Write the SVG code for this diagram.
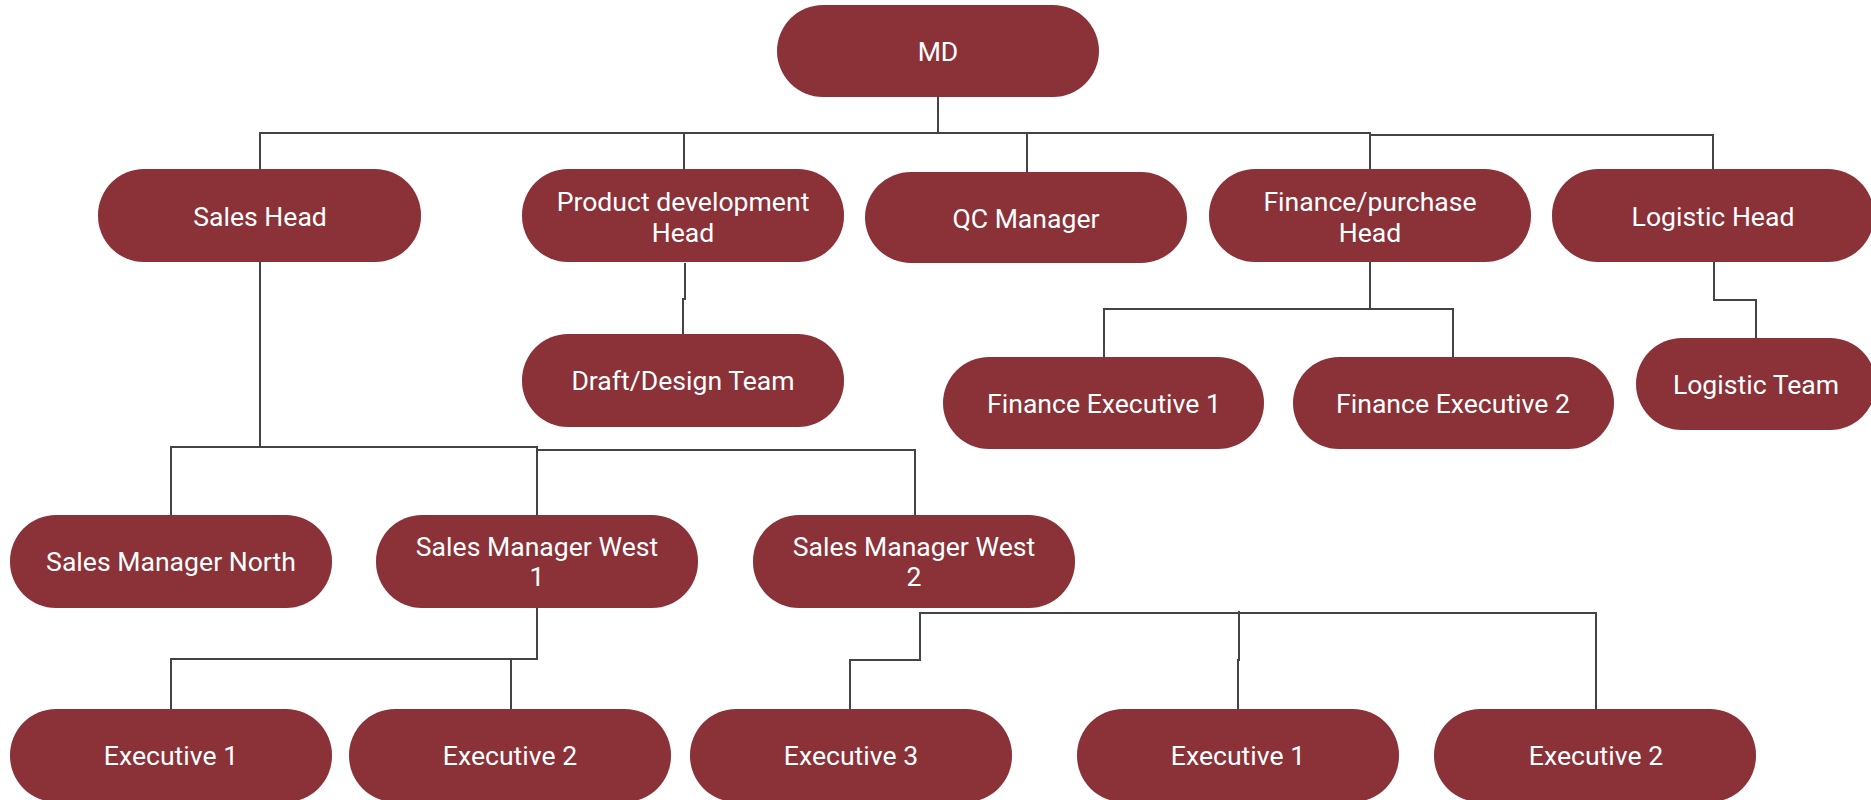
<svg xmlns="http://www.w3.org/2000/svg" width="1871" height="800" viewBox="0 0 1871 800">
<style>
.n rect{fill:#8b3138}
.n text{fill:#fff;font-family:Roboto,"Liberation Sans",sans-serif;font-size:26.6px;text-anchor:middle}
#connectors path{fill:none;stroke:#444;stroke-width:2}
</style>
<rect width="1871" height="800" fill="#fff"/>
<g id="connectors">
<path d="M938 97 V134"/>
<path d="M260 169 V133 H1370 V169"/>
<path d="M1370 135 H1713 V169"/>
<path d="M684 133 V169"/>
<path d="M1027 134 V172"/>
<path d="M685 263 V299 H683 V334"/>
<path d="M1370 262 V309 H1104 V357"/>
<path d="M1370 309 H1453 V357"/>
<path d="M1714 262 V300 H1756 V338"/>
<path d="M260 262 V447 H171 V515"/>
<path d="M260 447 H537 V515"/>
<path d="M537 450 H915 V515"/>
<path d="M537 608 V659 H171 V709"/>
<path d="M511 659 V709"/>
<path d="M920 612 V660 H850 V709"/>
<path d="M920 613 H1596 V709"/>
<path d="M1239 611 V660 H1238 V709"/>
</g>
<g id="md" class="n"><rect x="777" y="5" width="322" height="92" rx="46"/><text x="938" y="61">MD</text></g>
<g id="sales-head" class="n"><rect x="98" y="169" width="323" height="93" rx="46"/><text x="260" y="226">Sales Head</text></g>
<g id="pd-head" class="n"><rect x="522" y="169" width="322" height="93" rx="46"/><text x="683" y="211">Product development</text><text x="683" y="242">Head</text></g>
<g id="qc" class="n"><rect x="865" y="172" width="322" height="91" rx="46"/><text x="1026" y="228">QC Manager</text></g>
<g id="finance-head" class="n"><rect x="1209" y="169" width="322" height="93" rx="46"/><text x="1370" y="211">Finance/purchase</text><text x="1370" y="242">Head</text></g>
<g id="logistic-head" class="n"><rect x="1552" y="169" width="322" height="93" rx="46"/><text x="1713" y="226">Logistic Head</text></g>
<g id="draft" class="n"><rect x="522" y="334" width="322" height="93" rx="46"/><text x="683" y="390">Draft/Design Team</text></g>
<g id="fin-exec1" class="n"><rect x="943" y="357" width="321" height="92" rx="46"/><text x="1104" y="413">Finance Executive 1</text></g>
<g id="fin-exec2" class="n"><rect x="1293" y="357" width="321" height="92" rx="46"/><text x="1453" y="413">Finance Executive 2</text></g>
<g id="logistic-team" class="n"><rect x="1636" y="338" width="240" height="92" rx="46"/><text x="1756" y="394">Logistic Team</text></g>
<g id="sm-north" class="n"><rect x="10" y="515" width="322" height="93" rx="46"/><text x="171" y="571">Sales Manager North</text></g>
<g id="smw1" class="n"><rect x="376" y="515" width="322" height="93" rx="46"/><text x="537" y="556">Sales Manager West</text><text x="537" y="586">1</text></g>
<g id="smw2" class="n"><rect x="753" y="515" width="322" height="93" rx="46"/><text x="914" y="556">Sales Manager West</text><text x="914" y="586">2</text></g>
<g id="exec1a" class="n"><rect x="10" y="709" width="322" height="93" rx="46"/><text x="171" y="765">Executive 1</text></g>
<g id="exec2a" class="n"><rect x="349" y="709" width="322" height="93" rx="46"/><text x="510" y="765">Executive 2</text></g>
<g id="exec3" class="n"><rect x="690" y="709" width="322" height="93" rx="46"/><text x="851" y="765">Executive 3</text></g>
<g id="exec1b" class="n"><rect x="1077" y="709" width="322" height="93" rx="46"/><text x="1238" y="765">Executive 1</text></g>
<g id="exec2b" class="n"><rect x="1434" y="709" width="322" height="93" rx="46"/><text x="1596" y="765">Executive 2</text></g>
</svg>
